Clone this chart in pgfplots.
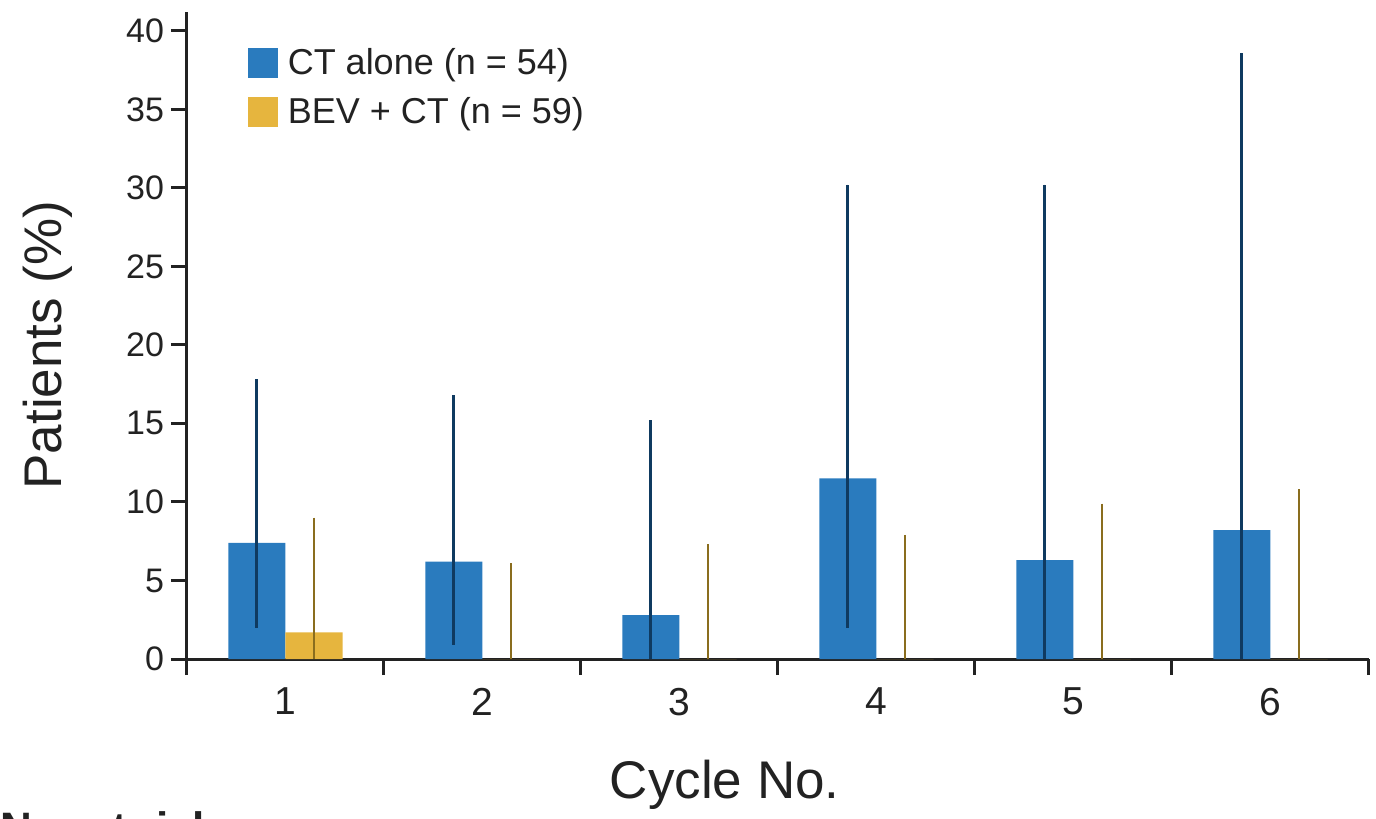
\documentclass[border=0pt]{standalone}
\usepackage{fontspec}
\setmainfont{Liberation Sans}
\usepackage{pgfplots}
\pgfplotsset{compat=1.18}
\definecolor{ctblue}{HTML}{2A7BBE}
\definecolor{ctdark}{HTML}{0F3A60}
\definecolor{bevyel}{HTML}{E6B53E}
\definecolor{bevdark}{HTML}{8A6D1E}
\definecolor{axgrey}{HTML}{222222}

\begin{document}
\begin{tikzpicture}
\begin{axis}[
  scale only axis, width=591pt, height=323.5pt,
  at={(0,0)}, anchor=south west,
  xmin=0.5, xmax=6.5, ymin=0, ymax=41.2,
  axis x line*=bottom, axis y line*=left,
  axis line style={axgrey, line width=1.5pt},
  ybar, bar width=0.29,
  ytick={0,5,...,40},
  % separators between cycles carry the tick marks
  xtick={0.5,1.5,...,6.5},
  xticklabels={},
  extra x ticks={1,...,6},
  extra x tick style={tick style={draw=none},
    xticklabel style={font=\fontsize{19.5}{22}\selectfont, text=axgrey, yshift=-3pt}},
  tick align=outside,
  major tick length=8pt,
  tick style={axgrey, line width=1.5pt},
  /pgf/number format/assume math mode=true,
  ticklabel style={font=\fontsize{17}{20}\selectfont, text=axgrey},
  xlabel={Cycle No.},
  ylabel={Patients (\%)},
  label style={font=\fontsize{26.5}{30}\selectfont, text=axgrey},
  xlabel style={at={(axis description cs:0.455,-0.195)}, anchor=center},
  ylabel style={at={(axis description cs:-0.1176,0.485)}, anchor=center},
  legend style={at={(axis description cs:0.046,0.957)}, anchor=north west,
    draw=none, fill=none, row sep=6pt,
    font=\fontsize{18}{21}\selectfont, text=axgrey,
    nodes={inner xsep=5pt}},
  legend cell align=left,
]
% CT alone
\addplot[fill=ctblue, draw=none, bar shift=-0.145,
  legend image code/.code={\fill[ctblue] (0pt,-7.5pt) rectangle (15pt,7.5pt);},
  error bars/.cd, y dir=both, y explicit, error mark=none,
  error bar style={ctdark, line width=1.5pt}]
  coordinates {
  (1,7.4)  += (0,10.4) -= (0,5.4)
  (2,6.2)  += (0,10.6) -= (0,5.3)
  (3,2.8)  += (0,12.4) -= (0,2.8)
  (4,11.5) += (0,18.7) -= (0,9.5)
  (5,6.3)  += (0,23.9) -= (0,6.3)
  (6,8.2)  += (0,30.4) -= (0,8.2)
  };
\addlegendentry{CT alone (n = 54)}
% BEV + CT
\addplot[fill=bevyel, draw=none, bar shift=0.145,
  legend image code/.code={\fill[bevyel] (0pt,-7.5pt) rectangle (15pt,7.5pt);},
  error bars/.cd, y dir=both, y explicit, error mark=none,
  error bar style={bevdark, line width=1.25pt}]
  coordinates {
  (1,1.7) += (0,7.3) -= (0,1.7)
  (2,0)   += (0,6.1) -= (0,0)
  (3,0)   += (0,7.3) -= (0,0)
  (4,0)   += (0,7.9) -= (0,0)
  (5,0)   += (0,9.9) -= (0,0)
  (6,0)   += (0,10.8) -= (0,0)
  };
\addlegendentry{BEV + CT (n = 59)}
\end{axis}
\node[anchor=north west, inner sep=0pt, text=axgrey,
  font=\fontsize{22}{26}\selectfont\bfseries] at (-93.5pt,-76pt) {No. at risk};
\pgfresetboundingbox
\path[use as bounding box] (-93.5pt,-80pt) rectangle (594.5pt,329.5pt);
\end{tikzpicture}
\end{document}
